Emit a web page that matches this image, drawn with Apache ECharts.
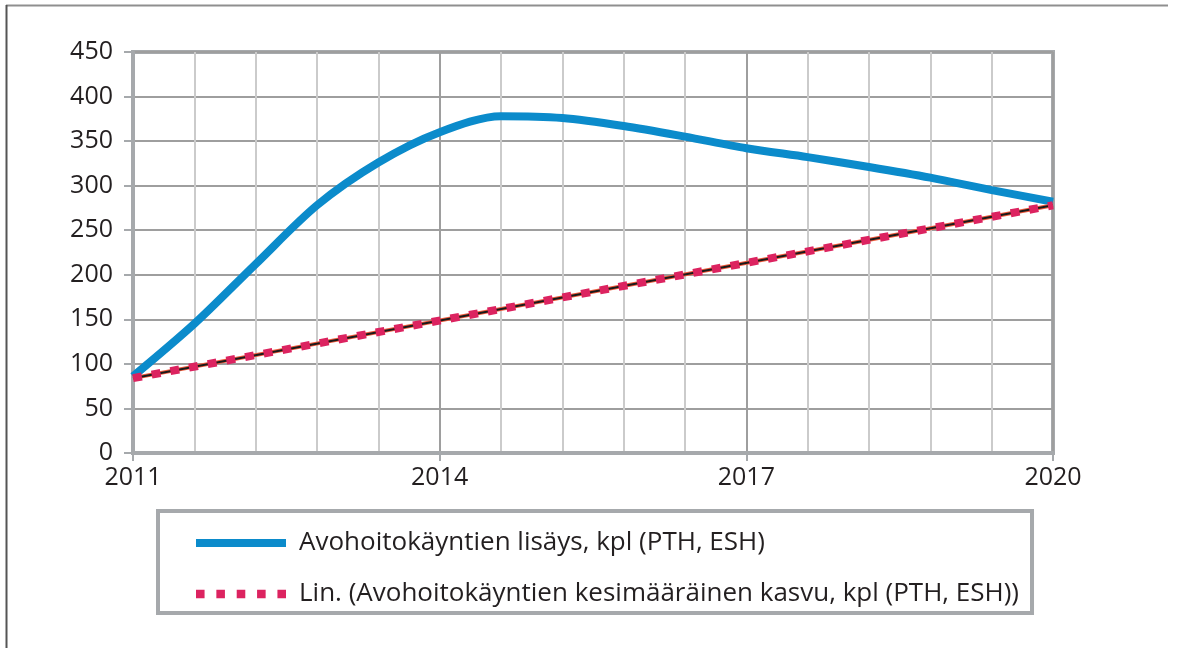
<!DOCTYPE html>
<html>
<head>
<meta charset="utf-8">
<script src="https://cdn.jsdelivr.net/npm/echarts@6/dist/echarts.min.js"></script>
<style>
  html, body { margin: 0; padding: 0; background: #ffffff; }
  #chart { width: 1177px; height: 648px; }
</style>
</head>
<body>
<div id="chart"></div>
<script>
// Time steps along the x axis (labels shown every fifth step)
const categories = ['2011', '2011.6', '2012.2', '2012.8', '2013.4', '2014', '2014.6', '2015.2',
  '2015.8', '2016.4', '2017', '2017.6', '2018.2', '2018.8', '2019.4', '2020'];

// Outpatient visit increase, count
const visits = [86, 145, 212, 278, 326, 360, 378, 376, 367, 355, 342, 332, 321, 309, 295, 282];

// Linear trend: start and end points (category index, value)
const trendPoints = [[0, 84], [15, 278]];

const seriesNames = [
  'Avohoitokäyntien lisäys, kpl (PTH, ESH)',
  'Lin. (Avohoitokäyntien kesimääräinen kasvu, kpl (PTH, ESH))'
];

const FONT = '"Open Sans", "Noto Sans", sans-serif';
const TEXT = '#231f20';
const AXIS = '#a6a9ac';
const GRID_DARK = '#9e9e9e';
const GRID_LIGHT = '#cbcbcb';
const BLUE = '#0b8bcb';
const PINK = '#dc2360';

const chart = echarts.init(document.getElementById('chart'), null, { renderer: 'canvas' });

chart.setOption({
  animation: false,
  backgroundColor: '#ffffff',
  textStyle: { fontFamily: FONT, color: TEXT },
  grid: {
    left: 133, right: 124, top: 52, bottom: 195,
    show: true, borderColor: AXIS, borderWidth: 4, backgroundColor: 'transparent'
  },
  graphic: [
    { type: 'line', shape: { x1: 6, y1: 5.5, x2: 1168, y2: 5.5 },
      style: { stroke: '#8f8f8f', lineWidth: 2 }, silent: true },
    { type: 'line', shape: { x1: 6.5, y1: 5, x2: 6.5, y2: 648 },
      style: { stroke: '#555555', lineWidth: 2 }, silent: true }
  ],
  legend: {
    data: [
      { name: seriesNames[0], icon: 'path://M0,0h90v8h-90z', itemStyle: { color: BLUE } },
      { name: seriesNames[1],
        icon: 'path://M0,0h8v8h-8zM19,0h8v8h-8zM38,0h8v8h-8zM57,0h8v8h-8zM76,0h8v8h-8z',
        itemStyle: { color: PINK } }
    ],
    orient: 'vertical',
    left: 158, top: 511,
    padding: [17, 13, 4, 38],
    itemGap: 21,
    itemWidth: 90,
    itemHeight: 9,
    borderColor: AXIS,
    borderWidth: 4,
    backgroundColor: '#ffffff',
    textStyle: { fontFamily: FONT, fontSize: 26, color: TEXT, lineHeight: 30, padding: [0, 0, 0, 8] }
  },
  xAxis: {
    type: 'category',
    data: categories,
    boundaryGap: false,
    axisLine: { lineStyle: { color: AXIS, width: 4 } },
    axisTick: { show: true, interval: 4, length: 8, lineStyle: { color: AXIS, width: 2 } },
    axisLabel: {
      interval: 4, margin: 12, fontFamily: FONT, fontSize: 25, color: TEXT
    },
    splitLine: {
      show: true, interval: 0,
      lineStyle: { color: [GRID_DARK, GRID_LIGHT, GRID_LIGHT, GRID_LIGHT, GRID_LIGHT], width: 2 }
    }
  },
  yAxis: {
    type: 'value',
    min: 0, max: 450, interval: 50,
    axisLine: { show: true, lineStyle: { color: AXIS, width: 4 } },
    axisTick: { show: true, length: 9, lineStyle: { color: AXIS, width: 2 } },
    axisLabel: { margin: 20, fontFamily: FONT, fontSize: 25, color: TEXT },
    splitLine: { show: true, lineStyle: { color: GRID_DARK, width: 2 } }
  },
  series: [
    {
      name: seriesNames[0],
      type: 'line',
      data: visits,
      smooth: 0.3,
      symbol: 'none',
      lineStyle: { color: BLUE, width: 8, cap: 'butt' },
      itemStyle: { color: BLUE },
      z: 2
    },
    {
      name: 'trend-under',
      type: 'line',
      data: trendPoints,
      symbol: 'none',
      lineStyle: { color: '#f05a3c', width: 4 },
      z: 3
    },
    {
      name: 'trend-core',
      type: 'line',
      data: trendPoints,
      symbol: 'none',
      lineStyle: { color: '#1a1a1a', width: 2 },
      z: 4
    },
    {
      name: seriesNames[1],
      type: 'line',
      data: trendPoints,
      symbol: 'none',
      lineStyle: { color: PINK, width: 8, type: [9, 10], cap: 'butt' },
      itemStyle: { color: PINK },
      z: 5
    }
  ]
});
</script>
</body>
</html>
